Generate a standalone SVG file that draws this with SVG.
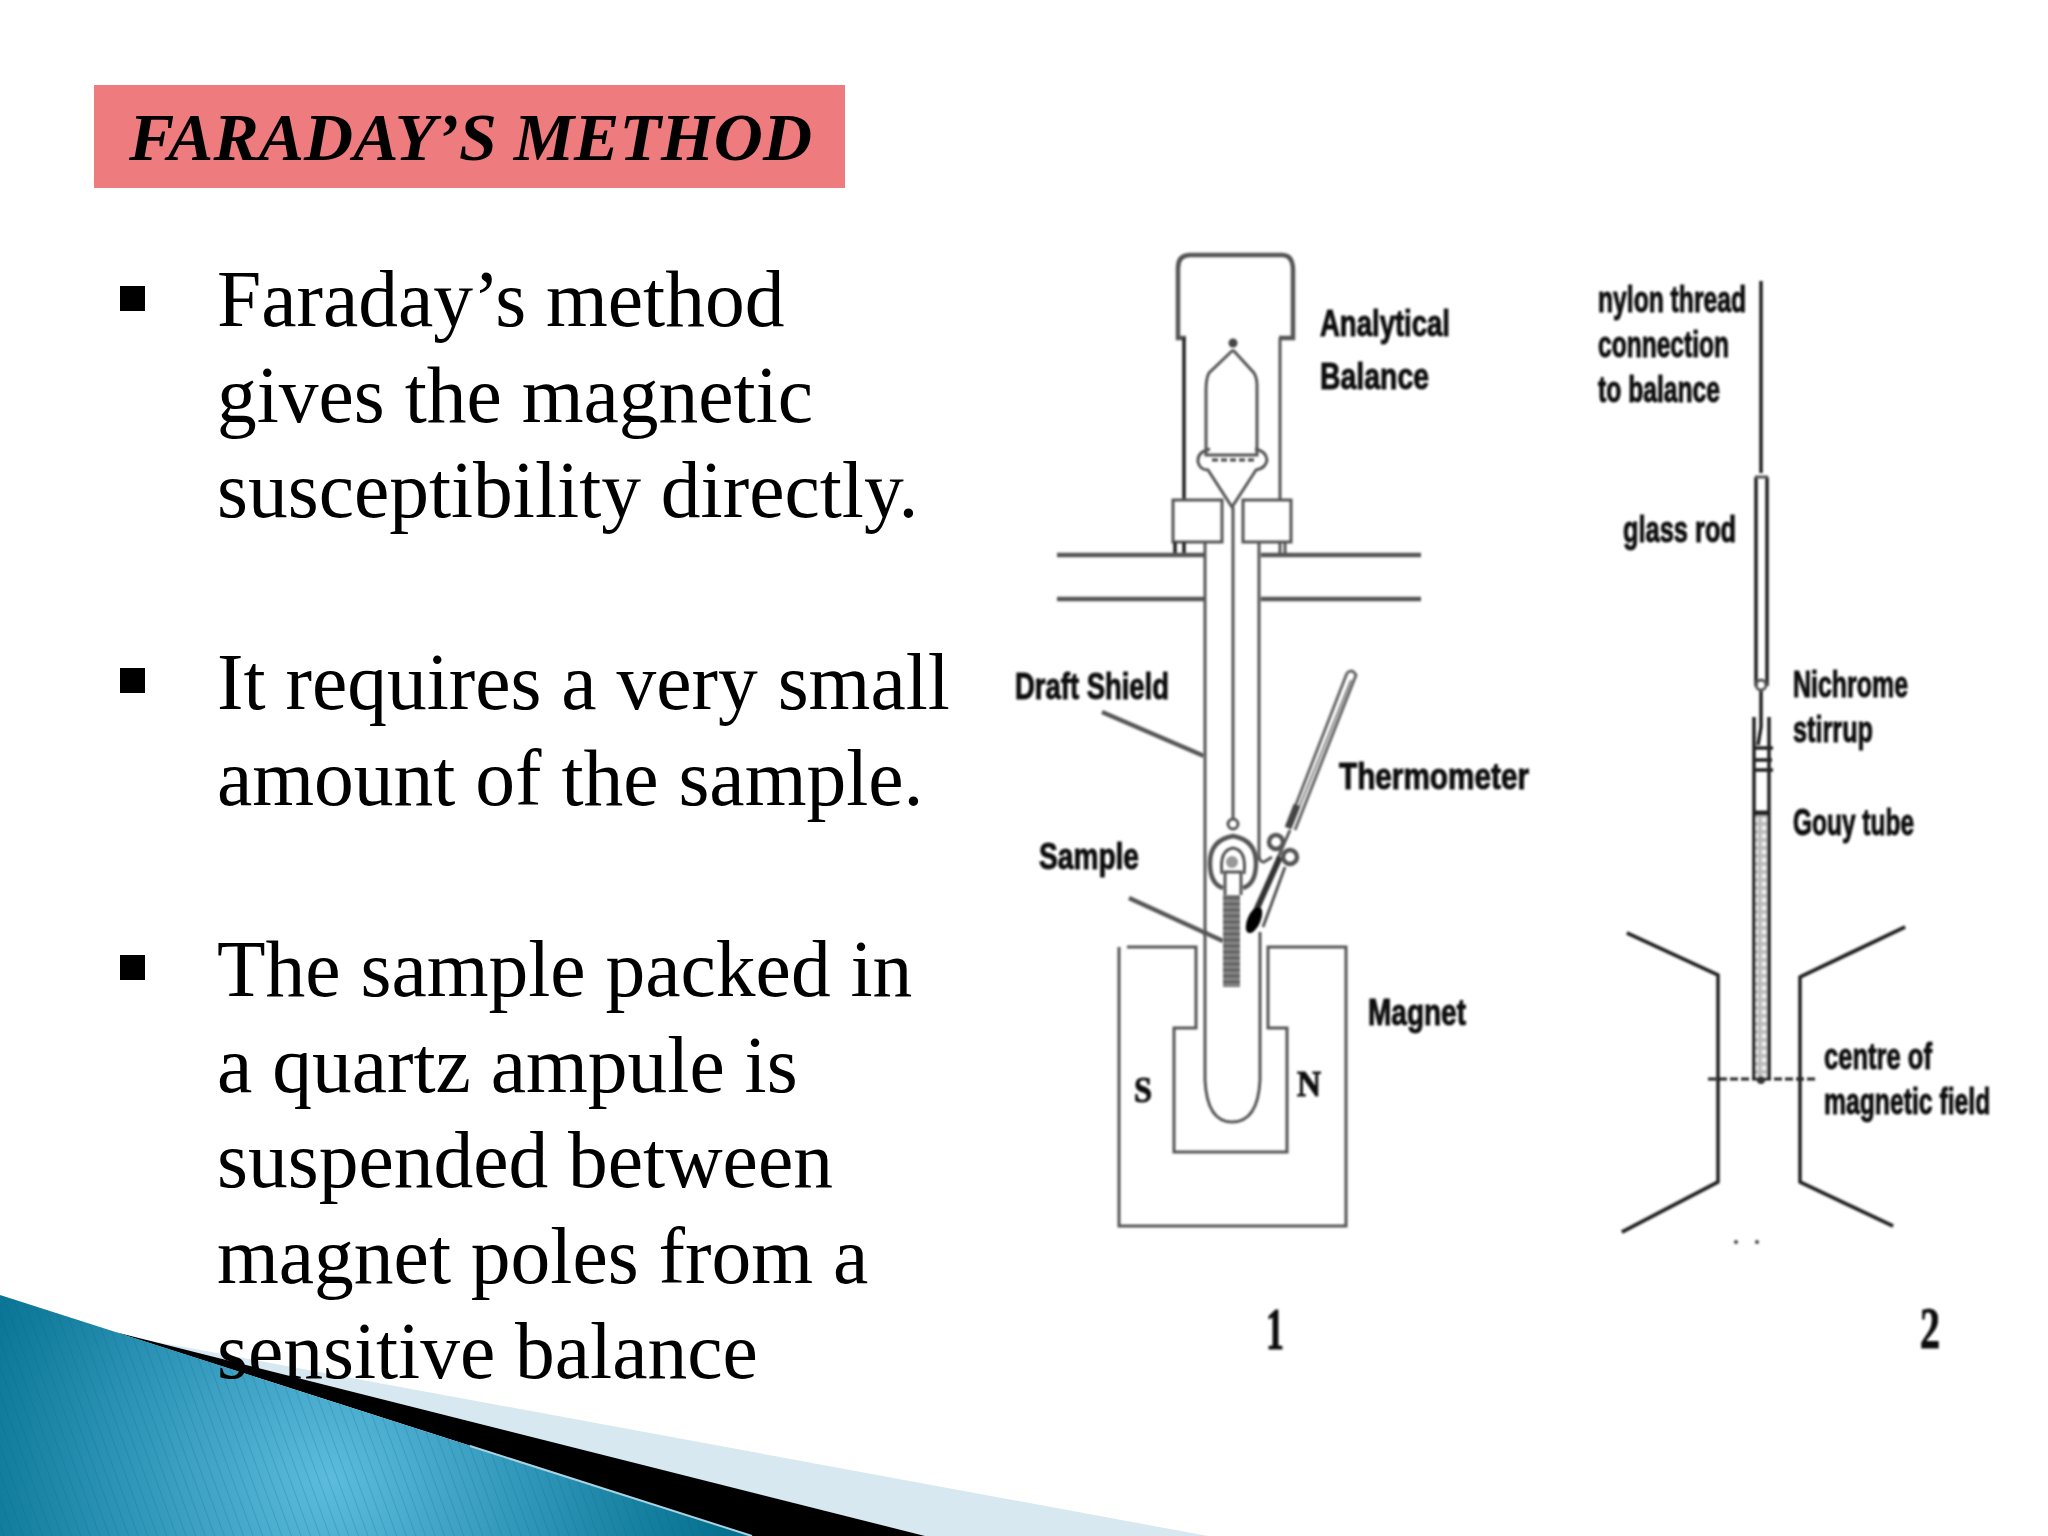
<svg xmlns="http://www.w3.org/2000/svg" width="2048" height="1536" viewBox="0 0 2048 1536">
<style>
.body{font-family:"Liberation Serif","Times New Roman",serif;font-size:79.5px;fill:#000}
.title{font-family:"Liberation Serif","Times New Roman",serif;font-size:68px;font-weight:bold;font-style:italic;fill:#000}
.lab{font-family:"Liberation Sans",Arial,sans-serif;font-size:36px;font-weight:bold;fill:#111;stroke:#111;stroke-width:1}
.ser{font-family:"Liberation Serif","Times New Roman",serif;font-weight:bold;fill:#111;stroke:#111;stroke-width:1}
.ln{fill:none;stroke:#555;stroke-width:3}
.dk{fill:none;stroke:#222;stroke-width:3.5}
.thk{fill:none;stroke:#555;stroke-width:4.5}
</style>
<defs>
<radialGradient id="teal" gradientUnits="userSpaceOnUse" cx="330" cy="1480" r="400">
<stop offset="0" stop-color="#5DBCDD"/><stop offset="0.5" stop-color="#2F96B9"/><stop offset="1" stop-color="#04708F"/>
</radialGradient>
<pattern id="stripes" patternUnits="userSpaceOnUse" width="9" height="9" patternTransform="rotate(-20)">
<line x1="0" y1="0" x2="0" y2="9" stroke="#0a5f7c" stroke-width="1.5" stroke-opacity="0.3"/>
</pattern>
<pattern id="dots" patternUnits="userSpaceOnUse" width="8" height="8">
<rect width="8" height="8" fill="#bbb"/><circle cx="4" cy="4" r="2.4" fill="#eee"/>
</pattern>
<pattern id="pack" patternUnits="userSpaceOnUse" width="6" height="6">
<rect width="6" height="6" fill="#666"/><rect width="6" height="2" fill="#8c8c8c"/>
</pattern>
<filter id="soft" filterUnits="userSpaceOnUse" x="0" y="0" width="2048" height="1536"><feGaussianBlur stdDeviation="0.8"/></filter>
</defs>
<rect width="2048" height="1536" fill="#fff"/>

<g id="corner-decoration">
<path d="M124 1336L1208 1536H925Z" fill="#D7E8F0"/>
<path d="M115 1332L925 1536H752Z" fill="#000"/>
<path d="M0 1295L752 1536H0Z" fill="url(#teal)"/>
<path d="M0 1295L752 1536H0Z" fill="url(#stripes)"/>
<path d="M470 1446L752 1536" fill="none" stroke="#A8D3E2" stroke-width="2"/>
</g>

<g id="title">
<rect x="94" y="85" width="751" height="103" fill="#EE7B7E"/>
<text class="title" x="129" y="160" textLength="683" lengthAdjust="spacingAndGlyphs">FARADAY’S METHOD</text>
</g>

<g id="bullet-text">
<rect x="120" y="286" width="25" height="25" fill="#000"/>
<rect x="120" y="668" width="25" height="25" fill="#000"/>
<rect x="120" y="955" width="25" height="25" fill="#000"/>
<text class="body" x="217" y="326">Faraday’s method</text>
<text class="body" x="217" y="422">gives the magnetic</text>
<text class="body" x="217" y="517">susceptibility directly.</text>
<text class="body" x="217" y="709">It requires a very small</text>
<text class="body" x="217" y="805">amount of the sample.</text>
<text class="body" x="217" y="996">The sample packed in</text>
<text class="body" x="217" y="1092">a quartz ampule is</text>
<text class="body" x="217" y="1187">suspended between</text>
<text class="body" x="217" y="1283">magnet poles from a</text>
<text class="body" x="217" y="1378">sensitive balance</text>
</g>

<g id="apparatus-1" filter="url(#soft)">
<g id="balance">
<path class="thk" d="M1186 338H1178V268Q1178 255 1190 255H1282Q1293 255 1293 270V338H1279"/>
<path class="dk" d="M1184 338V500"/>
<path class="ln" d="M1280 338V500"/>
<circle cx="1233" cy="343" r="4.5" fill="#444"/>
<path class="ln" d="M1233 350L1209 373Q1206 378 1206 390V455H1257V385Q1257 378 1254 373L1233 350"/>
<path class="ln" d="M1210 449Q1197 452 1198 462Q1200 470 1208 470L1232 507L1256 470Q1266 468 1267 460Q1266 451 1255 449"/>
<path d="M1212 460H1255" fill="none" stroke="#444" stroke-width="3" stroke-dasharray="6 3"/>
<rect class="ln" x="1173" y="500" width="49" height="42"/>
<rect class="ln" x="1243" y="500" width="48" height="42"/>
<path class="dk" d="M1175 542V555M1184 542V555"/>
<path class="ln" d="M1280 542V555M1285 542V555"/>
</g>
<g id="shield">
<path class="thk" d="M1057 555H1204M1261 555H1421M1057 599H1204M1261 599H1421"/>
<path class="ln" d="M1205 542V1080Q1207 1122 1232 1122Q1258 1122 1260 1080V932"/>
<path class="ln" d="M1259 542V855Q1259 862 1264 862L1272 857"/>
</g>
<g id="sample">
<path class="ln" d="M1233 507V819"/>
<circle class="ln" cx="1233" cy="824" r="5"/>
<path class="thk" d="M1223 888Q1210 884 1210 863Q1210 840 1233 836Q1256 840 1256 863Q1256 884 1243 888"/>
<path class="ln" d="M1222 874Q1219 850 1233 848Q1247 850 1244 874"/>
<circle cx="1232" cy="862" r="6" fill="#999"/>
<path class="ln" d="M1225 895V872H1241V895"/>
<rect x="1223" y="895" width="17" height="92" fill="url(#pack)"/>
</g>
<g id="thermometer">
<path d="M1347 673Q1352 668 1356 675L1295 830M1347 673L1288 825" fill="none" stroke="#666" stroke-width="3"/>
<path d="M1351 680L1292 825" fill="none" stroke="#888" stroke-width="2"/>
<path d="M1297 805L1288 828" fill="none" stroke="#444" stroke-width="7"/>
<path class="ln" d="M1285 867L1263 927"/>
<path class="ln" d="M1290 830L1277 860"/>
<path d="M1280 857L1255 913" fill="none" stroke="#333" stroke-width="6"/>
<ellipse cx="1254" cy="920" rx="6.5" ry="14" transform="rotate(24 1254 920)" fill="#000"/>
<circle class="thk" cx="1276" cy="842" r="7"/>
<circle class="thk" cx="1290" cy="857" r="7"/>
</g>
<g id="magnet">
<path class="ln" d="M1127 947H1196V1028H1174V1152H1287V1028H1268V947H1346V1226H1119V947"/>
<text class="ser" x="1134" y="1102" font-size="36" textLength="18" lengthAdjust="spacingAndGlyphs">S</text>
<text class="ser" x="1297" y="1096" font-size="36" textLength="24" lengthAdjust="spacingAndGlyphs">N</text>
</g>
<text class="lab" x="1320" y="336" textLength="130" lengthAdjust="spacingAndGlyphs">Analytical</text>
<text class="lab" x="1320" y="389" textLength="109" lengthAdjust="spacingAndGlyphs">Balance</text>
<text class="lab" x="1015" y="699" textLength="154" lengthAdjust="spacingAndGlyphs">Draft Shield</text>
<text class="lab" x="1339" y="789" textLength="190" lengthAdjust="spacingAndGlyphs">Thermometer</text>
<text class="lab" x="1039" y="869" textLength="100" lengthAdjust="spacingAndGlyphs">Sample</text>
<text class="lab" x="1368" y="1025" textLength="98" lengthAdjust="spacingAndGlyphs">Magnet</text>
<text class="ser" x="1266" y="1349" font-size="60" textLength="18" lengthAdjust="spacingAndGlyphs">1</text>
</g>

<g id="connectors" filter="url(#soft)">
<path class="thk" d="M1102 712L1204 756"/>
<path class="thk" d="M1129 898L1223 941"/>
</g>

<g id="apparatus-2" filter="url(#soft)">
<g id="gouy-tube">
<path class="dk" d="M1761 281V473M1761 689V727L1758 745"/>
<path class="dk" d="M1756 477V686M1767 477V686" stroke-width="3"/>
<path class="ln" d="M1755 477H1768"/>
<circle class="ln" cx="1761" cy="685" r="5"/>
<rect x="1755" y="814" width="14" height="264" fill="url(#dots)"/>
<path class="dk" d="M1754 717V1078M1769 717V1078"/>
<path class="dk" d="M1753 748H1773M1753 760H1772M1753 770H1773" stroke-width="5"/>
<path d="M1754 813H1769" fill="none" stroke="#222" stroke-width="5"/>
<path d="M1708 1079H1815" fill="none" stroke="#222" stroke-width="3" stroke-dasharray="8 3"/>
<circle cx="1761" cy="1080" r="4" fill="#333"/>
</g>
<g id="poles">
<path class="dk" d="M1627 933L1718 975V1182L1622 1232" stroke-width="4"/>
<path class="dk" d="M1905 927L1800 977V1182L1893 1226" stroke-width="4"/>
<path class="dk" d="M1627 933L1718 975M1718 1182L1622 1232M1905 927L1800 977M1800 1182L1893 1226" stroke-width="5"/>
<circle cx="1736" cy="1242" r="2" fill="#444"/>
<circle cx="1757" cy="1242" r="2" fill="#444"/>
</g>
<text class="lab" x="1598" y="312" textLength="148" lengthAdjust="spacingAndGlyphs">nylon thread</text>
<text class="lab" x="1598" y="357" textLength="131" lengthAdjust="spacingAndGlyphs">connection</text>
<text class="lab" x="1598" y="402" textLength="122" lengthAdjust="spacingAndGlyphs">to balance</text>
<text class="lab" x="1623" y="542" textLength="113" lengthAdjust="spacingAndGlyphs">glass rod</text>
<text class="lab" x="1793" y="697" textLength="115" lengthAdjust="spacingAndGlyphs">Nichrome</text>
<text class="lab" x="1793" y="742" textLength="80" lengthAdjust="spacingAndGlyphs">stirrup</text>
<text class="lab" x="1793" y="835" textLength="121" lengthAdjust="spacingAndGlyphs">Gouy tube</text>
<text class="lab" x="1824" y="1069" textLength="108" lengthAdjust="spacingAndGlyphs">centre of</text>
<text class="lab" transform="translate(1824 1114) scale(0.687 1)">magnetic field</text>
<text class="ser" x="1920" y="1348" font-size="60" textLength="20" lengthAdjust="spacingAndGlyphs">2</text>
</g>
</svg>
